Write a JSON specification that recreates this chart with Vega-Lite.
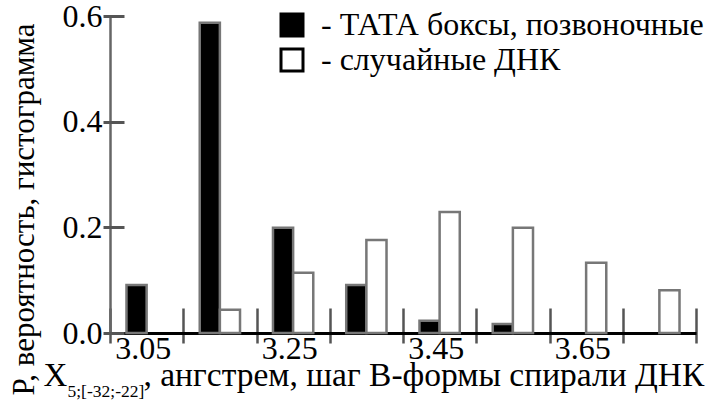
{
  "$schema": "https://vega.github.io/schema/vega-lite/v6.json",
  "width": 586,
  "height": 317,
  "autosize": "none",
  "padding": {"left": 110, "top": 16, "right": 16, "bottom": 70},
  "config": {"font": "Liberation Serif", "view": {"stroke": null}},
  "data": {"values": [
    {"bin": "3.05", "series": "ТАТА боксы, позвоночные", "p": 0.091},
    {"bin": "3.15", "series": "ТАТА боксы, позвоночные", "p": 0.587},
    {"bin": "3.15", "series": "случайные ДНК", "p": 0.044},
    {"bin": "3.25", "series": "ТАТА боксы, позвоночные", "p": 0.199},
    {"bin": "3.25", "series": "случайные ДНК", "p": 0.114},
    {"bin": "3.35", "series": "ТАТА боксы, позвоночные", "p": 0.091},
    {"bin": "3.35", "series": "случайные ДНК", "p": 0.176},
    {"bin": "3.45", "series": "ТАТА боксы, позвоночные", "p": 0.023},
    {"bin": "3.45", "series": "случайные ДНК", "p": 0.229},
    {"bin": "3.55", "series": "ТАТА боксы, позвоночные", "p": 0.017},
    {"bin": "3.55", "series": "случайные ДНК", "p": 0.199},
    {"bin": "3.65", "series": "случайные ДНК", "p": 0.133},
    {"bin": "3.75", "series": "случайные ДНК", "p": 0.081}
  ]},
  "layer": [
    {
      "mark": {"type": "bar", "stroke": "#777777", "strokeWidth": 2.5},
      "encoding": {
        "x": {"field": "bin", "type": "nominal", "sort": null,
              "scale": {"domain": ["3.05","3.15","3.25","3.35","3.45","3.55","3.65","3.75"], "paddingInner": 0.45, "paddingOuter": 0.225},
              "axis": null},
        "xOffset": {"field": "series", "type": "nominal",
                    "scale": {"domain": ["ТАТА боксы, позвоночные", "случайные ДНК"], "paddingInner": 0}},
        "y": {"field": "p", "type": "quantitative",
              "scale": {"domain": [0, 0.6], "nice": false, "zero": true},
              "axis": {"orient": "left", "values": [0, 0.2, 0.4, 0.6], "format": ".1f",
                       "ticks": false, "grid": false, "domain": true, "domainColor": "#666666", "domainWidth": 2.5,
                       "labelFont": "Liberation Serif", "labelFontSize": 32, "labelColor": "black", "labelPadding": 8,
                       "labelFlush": false, "labelOverlap": false,
                       "title": "P, вероятность, гистограмма", "titleFont": "Liberation Serif", "titleFontSize": 31,
                       "titleFontWeight": "normal", "titleColor": "black", "titleAngle": -90,
                       "titleX": -77, "titleY": 379, "titleAlign": "left", "titleBaseline": "alphabetic"}},
        "fill": {"field": "series", "type": "nominal",
                 "scale": {"domain": ["ТАТА боксы, позвоночные", "случайные ДНК"], "range": ["black", "white"]},
                 "legend": {"orient": "none", "legendX": 166, "legendY": -7, "title": null,
                            "symbolType": "square", "symbolSize": 484, "symbolStrokeColor": "black", "symbolStrokeWidth": 3,
                            "symbolOpacity": 1,
                            "labelFont": "Liberation Serif", "labelFontSize": 32, "labelColor": "black",
                            "labelOffset": 13, "rowPadding": 1, "padding": 0, "labelLimit": 600,
                            "labelExpr": "'- ' + datum.label"}}
      }
    },
    {
      "mark": {"type": "rule", "opacity": 0},
      "encoding": {
        "x": {"datum": 3.0, "type": "quantitative",
              "scale": {"domain": [3.0, 3.8], "nice": false, "zero": false},
              "axis": {"orient": "bottom", "values": [3.0, 3.1, 3.2, 3.3, 3.4, 3.5, 3.6, 3.7, 3.8],
                       "offset": -25, "tickSize": 35, "tickWidth": 2.5, "tickColor": "#555555",
                       "domain": false, "labels": false, "grid": false, "title": null}},
        "y": {"datum": 0, "type": "quantitative",
              "scale": {"domain": [0, 0.6], "nice": false},
              "axis": {"orient": "left", "values": [0, 0.2, 0.4, 0.6], "offset": -14, "tickSize": 21,
                       "tickWidth": 3, "tickColor": "#555555", "domain": false, "labels": false,
                       "grid": false, "title": null}}
      }
    },
    {
      "mark": {"type": "rule", "opacity": 0},
      "encoding": {
        "x": {"datum": 3.0, "type": "quantitative",
              "scale": {"domain": [3.0, 3.8], "nice": false, "zero": false},
              "axis": {"orient": "bottom", "values": [3.05, 3.25, 3.45, 3.65], "format": ".2f",
                       "ticks": false, "grid": false, "domain": true, "domainColor": "black", "domainWidth": 3,
                       "labelFont": "Liberation Serif", "labelFontSize": 32, "labelColor": "black",
                       "labelPadding": 0, "labelOffset": -4, "labelFlush": false, "labelOverlap": false,
                       "title": ", ангстрем, шаг B-формы спирали ДНК", "titleFont": "Liberation Serif",
                       "titleFontSize": 33.5, "titleFontWeight": "normal", "titleColor": "black",
                       "titleX": 33, "titleY": 52, "titleAlign": "left", "titleBaseline": "alphabetic"}}
      }
    },
    {
      "mark": {"type": "rule", "opacity": 0},
      "encoding": {
        "x": {"datum": 3.0, "type": "quantitative",
              "scale": {"domain": [3.0, 3.8], "nice": false, "zero": false},
              "axis": {"orient": "bottom", "ticks": false, "labels": false, "domain": false, "grid": false,
                       "title": "X", "titleFont": "Liberation Serif", "titleFontSize": 33,
                       "titleFontWeight": "normal", "titleColor": "black",
                       "titleX": -67, "titleY": 52, "titleAlign": "left", "titleBaseline": "alphabetic"}}
      }
    },
    {
      "mark": {"type": "rule", "opacity": 0},
      "encoding": {
        "x": {"datum": 3.0, "type": "quantitative",
              "scale": {"domain": [3.0, 3.8], "nice": false, "zero": false},
              "axis": {"orient": "bottom", "ticks": false, "labels": false, "domain": false, "grid": false,
                       "title": "5;[-32;-22]", "titleFont": "Liberation Serif", "titleFontSize": 17.5,
                       "titleFontWeight": "normal", "titleColor": "black",
                       "titleX": -43, "titleY": 63, "titleAlign": "left", "titleBaseline": "alphabetic"}}
      }
    }
  ],
  "resolve": {"scale": {"x": "independent", "y": "independent"}, "axis": {"x": "independent", "y": "independent"}}
}
